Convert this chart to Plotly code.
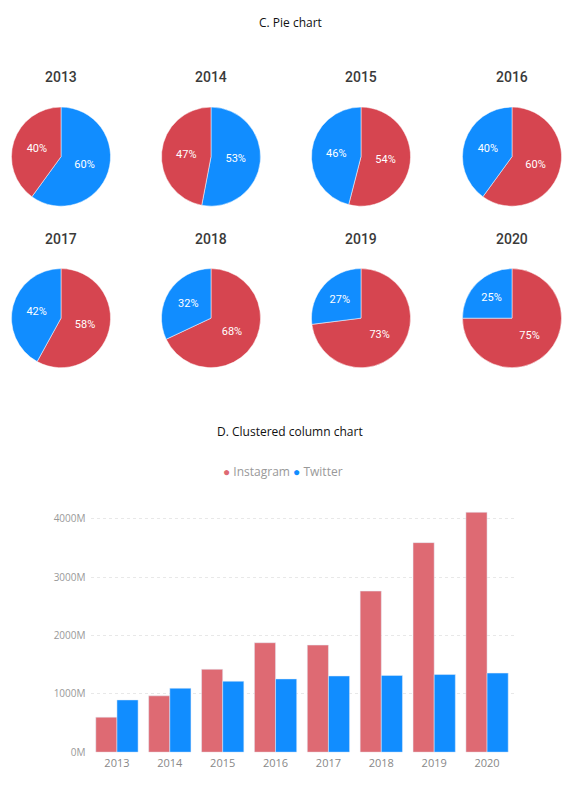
import plotly.graph_objs as go

# data
years = ["2013", "2014", "2015", "2016", "2017", "2018", "2019", "2020"]
series_names = ["Instagram", "Twitter"]
insta_share = [40, 47, 54, 60, 58, 68, 73, 75]
twitter_share = [60, 53, 46, 40, 42, 32, 27, 25]
insta_users = [600, 965, 1420, 1875, 1835, 2760, 3590, 4110]
twitter_users = [895, 1095, 1215, 1255, 1305, 1315, 1330, 1355]
ytick_vals = [0, 1000, 2000, 3000, 4000]
ytick_text = ["0M", "1000M", "2000M", "3000M", "4000M"]

# the page body has an 8px margin, so the figure is drawn inside it;
# keep it a little short so the page never overflows the window
OFF = 8
W, H = 581 - 2 * OFF, 791 - 2 * OFF - 6
PIE_RED = "#D64550"
BAR_RED = "#DE6A73"
BLUE = "#118DFF"


def px(x):
    # window x pixel -> paper x
    return (x - OFF) / W


def py_(y):
    # window y pixel -> paper y
    return 1 - (y - OFF) / H


traces = []
annotations = []

# pie grid: 4 columns, 2 rows
col_cx = [61, 211, 361, 512]
row_cy = [158, 321]
row_title_y = [78, 241]
radius = 50

for i in range(len(years)):
    r = i // 4
    c = i % 4
    cx = col_cx[c]
    cy = row_cy[r]
    traces.append(
        go.Pie(
            labels=series_names,
            values=[insta_share[i], twitter_share[i]],
            marker=dict(colors=[PIE_RED, BLUE],
                        line=dict(color="white", width=0.5)),
            sort=True,
            direction="clockwise",
            rotation=0,
            texttemplate="%{percent:.0%}",
            textposition="inside",
            insidetextorientation="horizontal",
            textfont=dict(family="Roboto", size=11, color="white"),
            showlegend=False,
            hoverinfo="label+value",
            domain=dict(x=[px(cx - radius), px(cx + radius)],
                        y=[py_(cy + radius), py_(cy - radius)]),
        )
    )
    annotations.append(
        dict(text=years[i], x=px(cx), y=py_(row_title_y[r]),
             xref="paper", yref="paper", showarrow=False,
             xanchor="center", yanchor="middle",
             font=dict(family="Roboto", size=14, color="#3a3a3a", weight=500))
    )

# clustered column chart
traces.append(go.Bar(x=years, y=insta_users, name=series_names[0],
                     marker=dict(color=BAR_RED), showlegend=False))
traces.append(go.Bar(x=years, y=twitter_users, name=series_names[1],
                     marker=dict(color=BLUE), showlegend=False))

# section titles
annotations.append(dict(text="C. Pie chart", x=px(290), y=py_(23),
                        xref="paper", yref="paper", showarrow=False,
                        xanchor="center", yanchor="middle",
                        font=dict(family="Open Sans", size=12, color="#111111")))
annotations.append(dict(text="D. Clustered column chart", x=px(290), y=py_(435),
                        xref="paper", yref="paper", showarrow=False,
                        xanchor="center", yanchor="middle",
                        font=dict(family="Open Sans", size=12, color="#111111")))

# legend row with round markers
legend_text = " ".join(
    "<span style='color:%s'>●</span> %s" % (col, name)
    for col, name in zip([BAR_RED, BLUE], series_names)
)
annotations.append(dict(text=legend_text, x=px(283), y=py_(476),
                        xref="paper", yref="paper", showarrow=False,
                        xanchor="center", yanchor="middle",
                        font=dict(family="Open Sans", size=12, color="#999999")))

y_zero_px = 759
y_top_px = y_zero_px - 4300 * 0.0589

layout = go.Layout(
    width=W,
    height=H,
    margin=dict(l=0, r=0, t=0, b=0),
    paper_bgcolor="white",
    plot_bgcolor="white",
    barmode="group",
    bargap=0.2,
    bargroupgap=0,
    annotations=annotations,
    xaxis=dict(
        type="category",
        domain=[px(90.5), px(513.5)],
        anchor="y",
        showgrid=False,
        zeroline=False,
        showline=False,
        ticks="",
        ticklabelstandoff=3,
        tickfont=dict(family="Open Sans", size=11, color="#888888"),
    ),
    yaxis=dict(
        domain=[py_(y_zero_px), py_(y_top_px)],
        anchor="x",
        range=[0, 4300],
        tickvals=ytick_vals,
        ticktext=ytick_text,
        showgrid=True,
        gridcolor="#E8E8E8",
        griddash="dot",
        zeroline=False,
        showline=False,
        ticks="",
        ticklabelstandoff=4,
        tickfont=dict(family="Open Sans", size=10, color="#999999"),
    ),
)

fig = go.Figure(data=traces, layout=layout)
fig.write_html("out.html")
